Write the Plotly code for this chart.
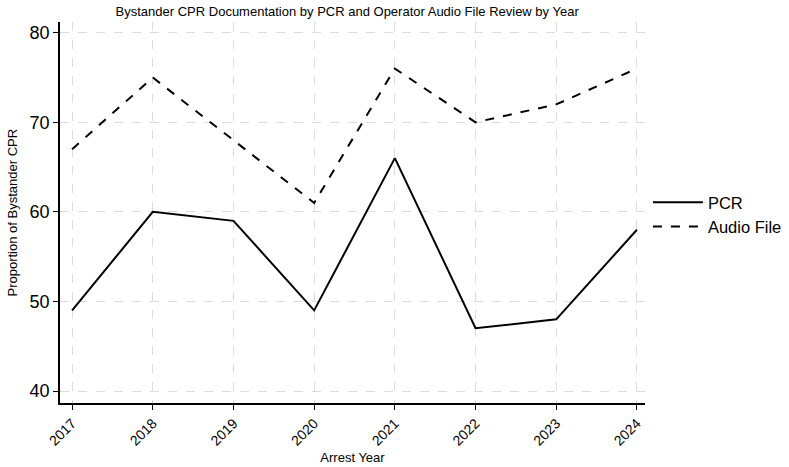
import plotly.graph_objects as go

years = [2017, 2018, 2019, 2020, 2021, 2022, 2023, 2024]
pcr = [49, 60, 59, 49, 66, 47, 48, 58]
audio = [67, 75, 68, 61, 76, 70, 72, 76]
y_ticks = [40, 50, 60, 70, 80]

FONT = "Liberation Sans, Arial, Helvetica, sans-serif"

fig = go.Figure()
fig.add_trace(go.Scatter(x=years, y=pcr, mode="lines", name="PCR",
                         line=dict(color="black", width=2)))
fig.add_trace(go.Scatter(x=years, y=audio, mode="lines", name="Audio File",
                         line=dict(color="black", width=2, dash="dash")))

fig.update_layout(
    width=789, height=467,
    margin=dict(l=60, r=144, t=22, b=64, autoexpand=False),
    paper_bgcolor="white", plot_bgcolor="white",
    font=dict(family=FONT, color="black"),
    title=dict(text="Bystander CPR Documentation by PCR and Operator Audio File Review by Year",
               x=0.44, xanchor="center", y=0.985, yanchor="top",
               font=dict(size=13, family=FONT)),
    legend=dict(x=1.005, xanchor="left", y=0.495, yanchor="middle",
                font=dict(size=16.5), bgcolor="rgba(0,0,0,0)",
                tracegroupgap=4, itemwidth=50),
    showlegend=True,
    annotations=[dict(text="Proportion of Bystander CPR", textangle=-90,
                      xref="paper", yref="paper", x=-0.082, y=0.5,
                      xanchor="center", yanchor="middle", showarrow=False,
                      font=dict(size=13, family=FONT))],
)
fig.update_xaxes(
    range=[2016.85, 2024.1], tickvals=years, ticktext=[str(y) for y in years],
    tickangle=-45, tickfont=dict(size=14),
    showline=True, linecolor="black", linewidth=1.5,
    ticks="outside", ticklen=5, tickcolor="black",
    showgrid=True, gridcolor="#dcdcdc", griddash="dash", gridwidth=1,
    zeroline=False, automargin=False,
    title=dict(text="Arrest Year", font=dict(size=13), standoff=5),
)
fig.update_yaxes(
    range=[38.66, 81.2], tickvals=y_ticks, tickfont=dict(size=18),
    showline=True, linecolor="black", linewidth=1.5,
    ticks="outside", ticklen=5, tickcolor="black",
    showgrid=True, gridcolor="#dcdcdc", griddash="dash", gridwidth=1,
    zeroline=False, automargin=False,
)

fig.write_html("out.html")
